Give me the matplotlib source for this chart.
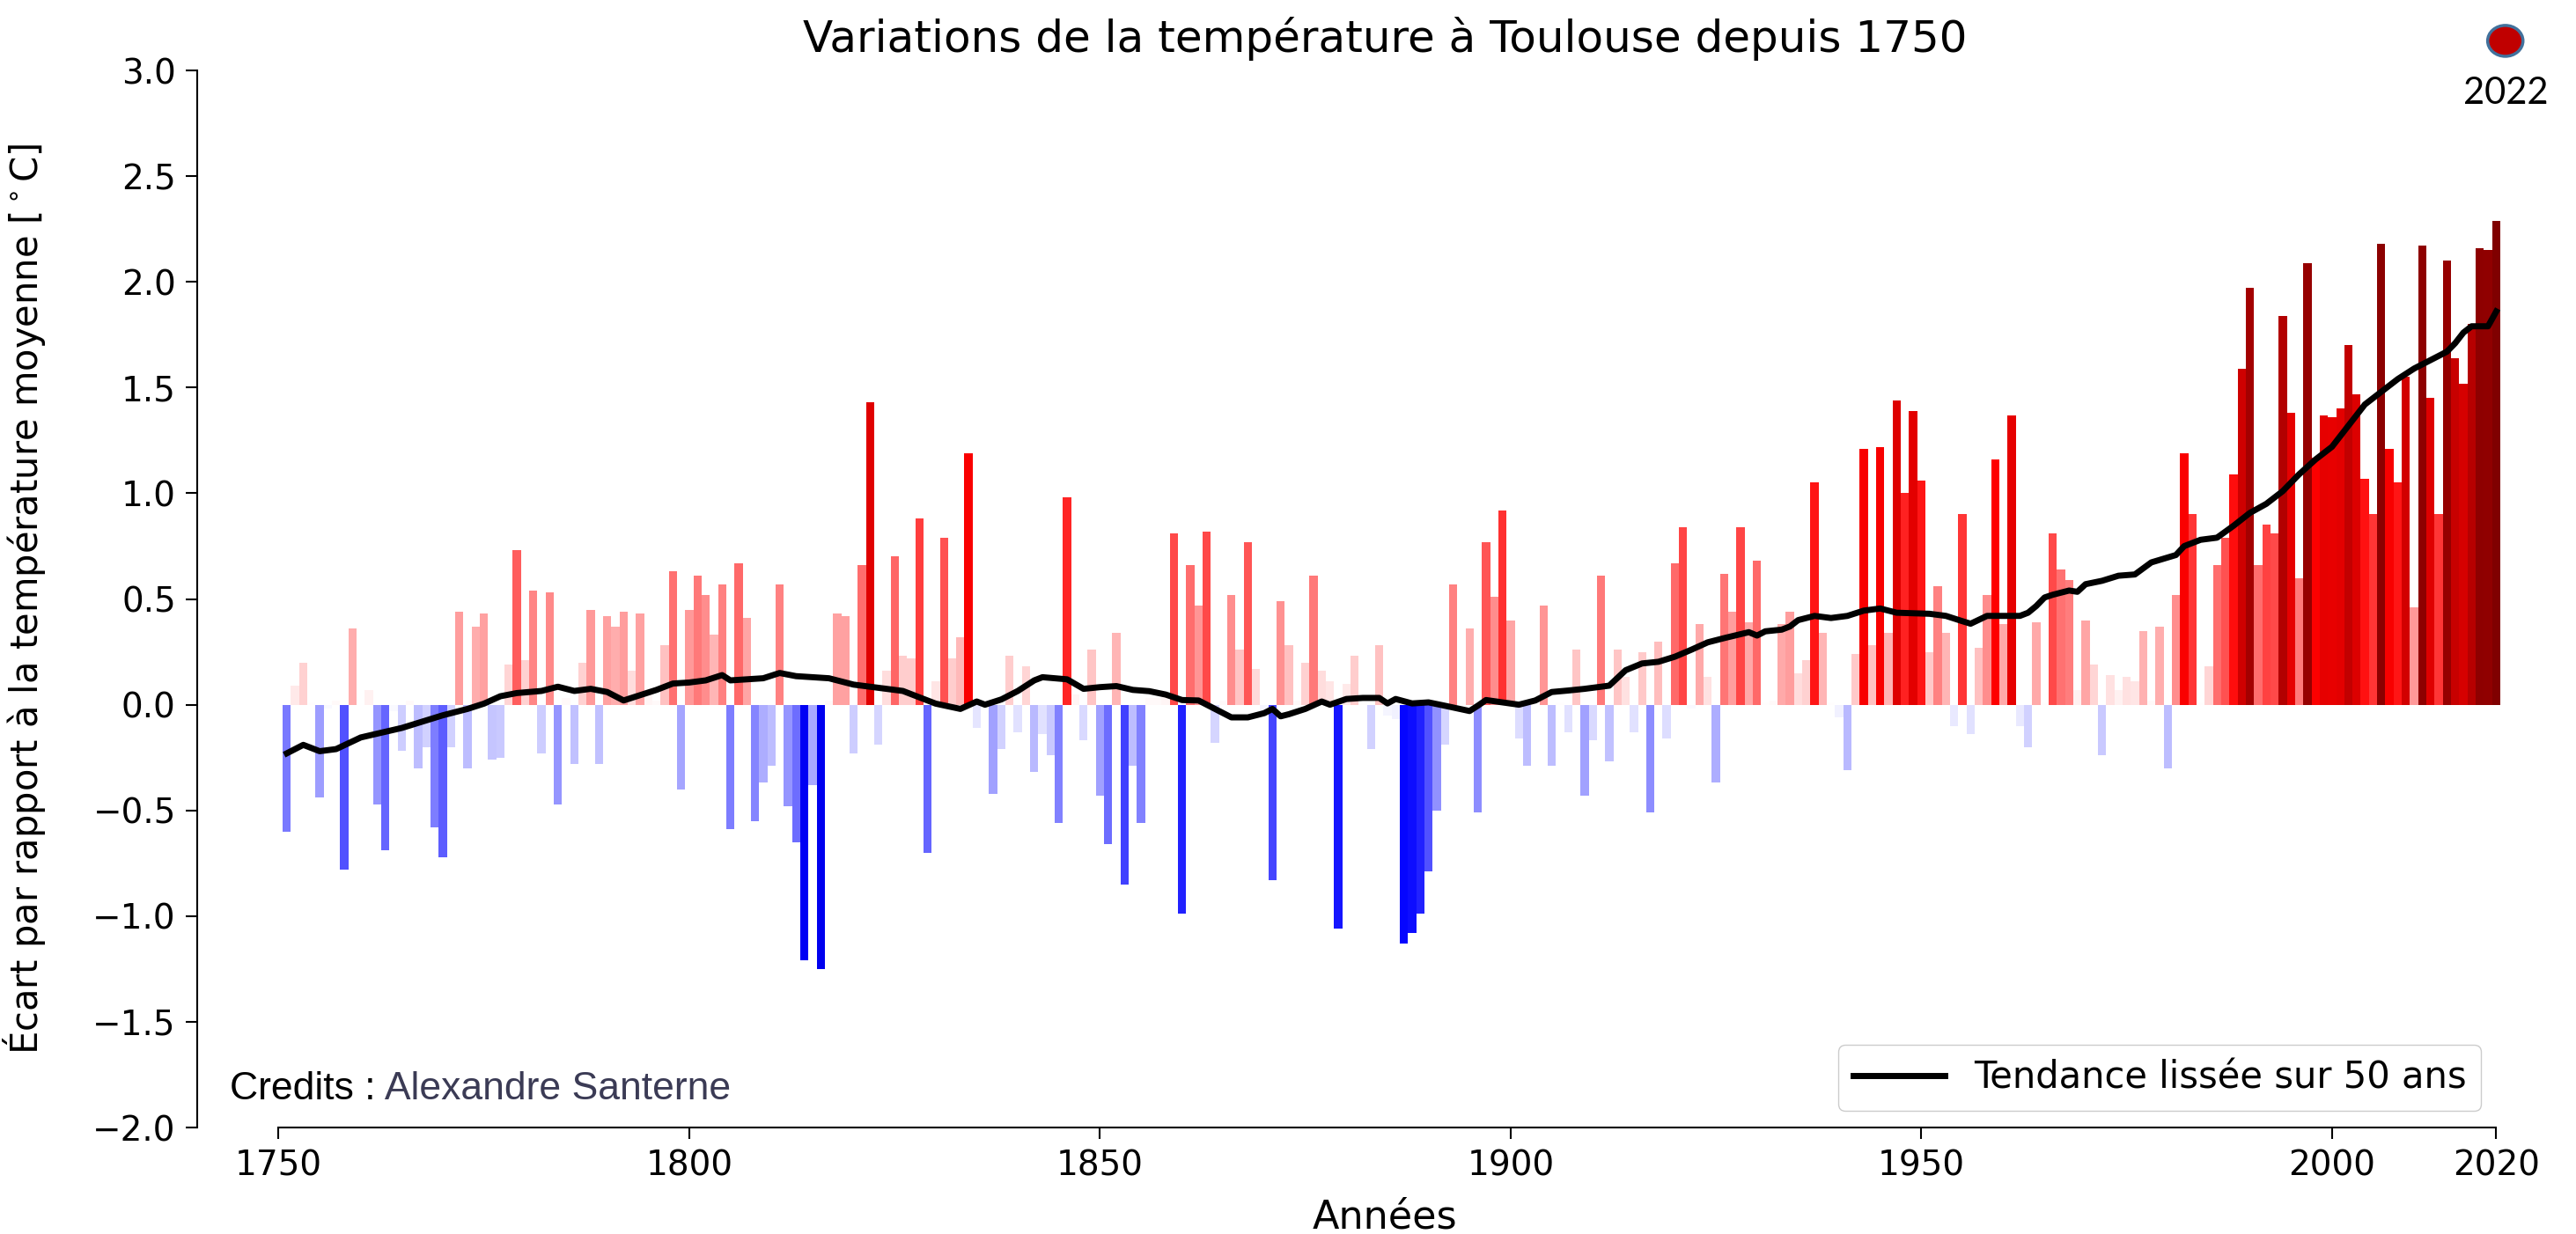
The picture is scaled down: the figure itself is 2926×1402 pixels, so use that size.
import numpy as np
import matplotlib
matplotlib.use("Agg")
import matplotlib.pyplot as plt
from matplotlib.patches import Ellipse

# yearly anomalies (°C), 1751 -> 2020
years = np.arange(1751, 2021)
anomalies = [
    -0.60, 0.09, 0.20, 0.01, -0.44, -0.02, 0.02, -0.78, 0.36,               # 1751-1759
    0.00, 0.07, -0.47, -0.69, -0.03, -0.22, 0.02, -0.30, -0.20, -0.58,     # 1760-1769
    -0.72, -0.20, 0.44, -0.30, 0.37, 0.43, -0.26, -0.25, 0.19, 0.73,       # 1770-1779
    0.21, 0.54, -0.23, 0.53, -0.47, 0.03, -0.28, 0.20, 0.45, -0.28,        # 1780-1789
    0.42, 0.37, 0.44, 0.16, 0.43, 0.05, 0.02, 0.28, 0.63, -0.40,           # 1790-1799
    0.45, 0.61, 0.52, 0.33, 0.57, -0.59, 0.67, 0.41, -0.55, -0.37,         # 1800-1809
    -0.29, 0.57, -0.48, -0.65, -1.21, -0.38, -1.25, 0.02, 0.43, 0.42,      # 1810-1819
    -0.23, 0.66, 1.43, -0.19, 0.16, 0.70, 0.23, 0.22, 0.88, -0.70,         # 1820-1829
    0.11, 0.79, 0.22, 0.32, 1.19, -0.11, 0.02, -0.42, -0.21, 0.23,         # 1830-1839
    -0.13, 0.18, -0.32, -0.14, -0.24, -0.56, 0.98, 0.05, -0.17, 0.26,      # 1840-1849
    -0.43, -0.66, 0.34, -0.85, -0.29, -0.56, 0.03, 0.03, 0.05, 0.81,       # 1850-1859
    -0.99, 0.66, 0.47, 0.82, -0.18, 0.02, 0.52, 0.26, 0.77, 0.17,          # 1860-1869
    -0.05, -0.83, 0.49, 0.28, 0.02, 0.20, 0.61, 0.16, 0.11, -1.06,         # 1870-1879
    0.10, 0.23, 0.01, -0.21, 0.28, -0.05, -0.07, -1.13, -1.08, -0.99,      # 1880-1889
    -0.79, -0.50, -0.19, 0.57, 0.01, 0.36, -0.51, 0.77, 0.51, 0.92,        # 1890-1899
    0.40, -0.16, -0.29, 0.01, 0.47, -0.29, 0.01, -0.13, 0.26, -0.43,       # 1900-1909
    -0.17, 0.61, -0.27, 0.26, 0.13, -0.13, 0.25, -0.51, 0.30, -0.16,       # 1910-1919
    0.67, 0.84, -0.02, 0.38, 0.13, -0.37, 0.62, 0.44, 0.84, 0.39,          # 1920-1929
    0.68, 0.01, 0.02, 0.38, 0.44, 0.15, 0.21, 1.05, 0.34, 0.01,            # 1930-1939
    -0.06, -0.31, 0.24, 1.21, 0.28, 1.22, 0.34, 1.44, 1.00, 1.39,          # 1940-1949
    1.06, 0.25, 0.56, 0.34, -0.10, 0.90, -0.14, 0.27, 0.52, 1.16,          # 1950-1959
    0.38, 1.37, -0.10, -0.20, 0.39, 0.01, 0.81, 0.64, 0.59, 0.07,          # 1960-1969
    0.40, 0.19, -0.24, 0.14, 0.07, 0.13, 0.11, 0.35, 0.02, 0.37,           # 1970-1979
    -0.30, 0.52, 1.19, 0.90, 0.01, 0.18, 0.66, 0.79, 1.09, 1.59,           # 1980-1989
    1.97, 0.66, 0.85, 0.81, 1.84, 1.38, 0.60, 2.09, 1.17, 1.37,            # 1990-1999
    1.36, 1.40, 1.70, 1.47, 1.07, 0.90, 2.18, 1.21, 1.05, 1.55,            # 2000-2009
    0.46, 2.17, 1.45, 0.90, 2.10, 1.64, 1.52, 1.80, 2.16, 2.15,            # 2010-2019
    2.29,                                                                   # 2020
]

# smoothed 50-year trend
trend_years = [1751, 1753, 1755, 1757, 1760, 1765, 1770, 1773, 1775, 1777, 1779,
               1782, 1784, 1786, 1788, 1790, 1792, 1794, 1796, 1798, 1800, 1802,
               1804, 1805, 1807, 1809, 1811, 1813, 1815, 1817, 1820, 1822, 1824,
               1826, 1828, 1830, 1833, 1835, 1836, 1838, 1840, 1842, 1843, 1846,
               1848, 1850, 1852, 1854, 1856, 1858, 1860, 1862, 1864, 1866, 1868,
               1870, 1871, 1872, 1873, 1875, 1877, 1878, 1880, 1882, 1884, 1885,
               1886, 1888, 1890, 1892, 1895, 1896, 1897, 1899, 1901, 1903, 1905,
               1907, 1909, 1912, 1914, 1916, 1918, 1920, 1922, 1924, 1926, 1929,
               1930, 1931, 1933, 1934, 1935, 1937, 1939, 1941, 1943, 1945, 1947,
               1951, 1953, 1955, 1956, 1958, 1962, 1963, 1964, 1965, 1966, 1968,
               1969, 1970, 1972, 1974, 1976, 1978, 1981, 1982, 1984, 1986, 1988,
               1990, 1992, 1994, 1996, 1998, 2000, 2002, 2004, 2006, 2008, 2010,
               2012, 2014, 2015, 2016, 2017, 2019, 2020]
trend_values = [-0.23, -0.19, -0.22, -0.21, -0.155, -0.11, -0.05, -0.02, 0.005, 0.04, 0.055,
                0.065, 0.085, 0.065, 0.075, 0.06, 0.02, 0.045, 0.07, 0.10, 0.105, 0.115,
                0.14, 0.115, 0.12, 0.125, 0.15, 0.135, 0.13, 0.125, 0.095, 0.085, 0.075,
                0.065, 0.035, 0.005, -0.02, 0.015, 0.0, 0.025, 0.065, 0.115, 0.13, 0.12,
                0.075, 0.083, 0.088, 0.07, 0.064, 0.048, 0.022, 0.02, -0.02, -0.06, -0.06,
                -0.04, -0.02, -0.055, -0.045, -0.02, 0.015, 0.0, 0.027, 0.032, 0.032, 0.006,
                0.027, 0.006, 0.011, -0.005, -0.03, -0.005, 0.022, 0.011, 0.0, 0.02, 0.06,
                0.067, 0.075, 0.09, 0.163, 0.195, 0.203, 0.227, 0.26, 0.295, 0.315, 0.343,
                0.327, 0.347, 0.355, 0.37, 0.40, 0.42, 0.41, 0.42, 0.445, 0.455, 0.435,
                0.43, 0.42, 0.395, 0.383, 0.42, 0.42, 0.435, 0.467, 0.507, 0.52, 0.54,
                0.534, 0.57, 0.586, 0.61, 0.616, 0.673, 0.708, 0.75, 0.78, 0.79, 0.846,
                0.907, 0.95, 1.01, 1.09, 1.16, 1.22, 1.32, 1.42, 1.48, 1.54, 1.59,
                1.63, 1.67, 1.71, 1.76, 1.79, 1.79, 1.86]

# extra 2022 point added on top of the chart
point_2022 = 3.14

xticks = [1750, 1800, 1850, 1900, 1950, 2000, 2020]
yticks = np.arange(-2.0, 3.01, 0.5)

fig = plt.figure(figsize=(29.26, 14.02), dpi=100)
ax = fig.add_axes([0.0766, 0.0863, 0.9221, 0.8566])

norm = plt.Normalize(-2.3, 2.3)
colors = plt.cm.seismic(norm(np.array(anomalies)))
ax.bar(years, anomalies, width=1.0, color=colors, linewidth=0, zorder=2)
ax.plot(trend_years, trend_values, color="black", lw=5, zorder=3,
        label="Tendance lissée sur 50 ans")

ax.set_xlim(1740.1, 2029.3)
ax.set_ylim(-2.0, 3.0)
ax.set_xticks(xticks)
ax.set_yticks(yticks)
ax.yaxis.set_major_formatter(
    matplotlib.ticker.FuncFormatter(lambda v, p: f"{v:.1f}".replace("-", "\u2212")))
ax.tick_params(labelsize=28, length=9.5, width=1.5, pad=8)

for s in ["top", "right"]:
    ax.spines[s].set_visible(False)
for s in ["left", "bottom"]:
    ax.spines[s].set_linewidth(1.5)
ax.spines["bottom"].set_bounds(1750, 2020)
ax.spines["left"].set_bounds(-2.0, 3.0)

ax.set_title("Variations de la température à Toulouse depuis 1750", fontsize=36, pad=15)
ax.set_xlabel("Années", fontsize=32, labelpad=13)
ax.set_ylabel("Écart par rapport à la température moyenne [$^\\circ$C]", fontsize=30, labelpad=37)

leg = ax.legend(loc="lower right", bbox_to_anchor=(0.9615, 0.0158), borderaxespad=0,
                fontsize=30, handlelength=2.5, framealpha=1, edgecolor="#cccccc")

t1 = ax.text(0.0137, 0.0366, "Credits :", transform=ax.transAxes, va="center", ha="left",
             fontsize=32, family="Liberation Sans", color="black")
ax.annotate(" Alexandre Santerne", xy=(1, 0.5), xycoords=t1, va="center", ha="left",
            fontsize=32, family="Liberation Sans", color="#3b3b55")

ax.add_patch(Ellipse((2021.1, point_2022), width=4.3, height=0.146, facecolor="#c00000",
                     edgecolor="#41719c", linewidth=2.5, clip_on=False, zorder=5))
ax.text(2021.2, 2.89, "2022", fontsize=30, family="Lato", ha="center", va="center")

fig.savefig("out.png", dpi=100)
